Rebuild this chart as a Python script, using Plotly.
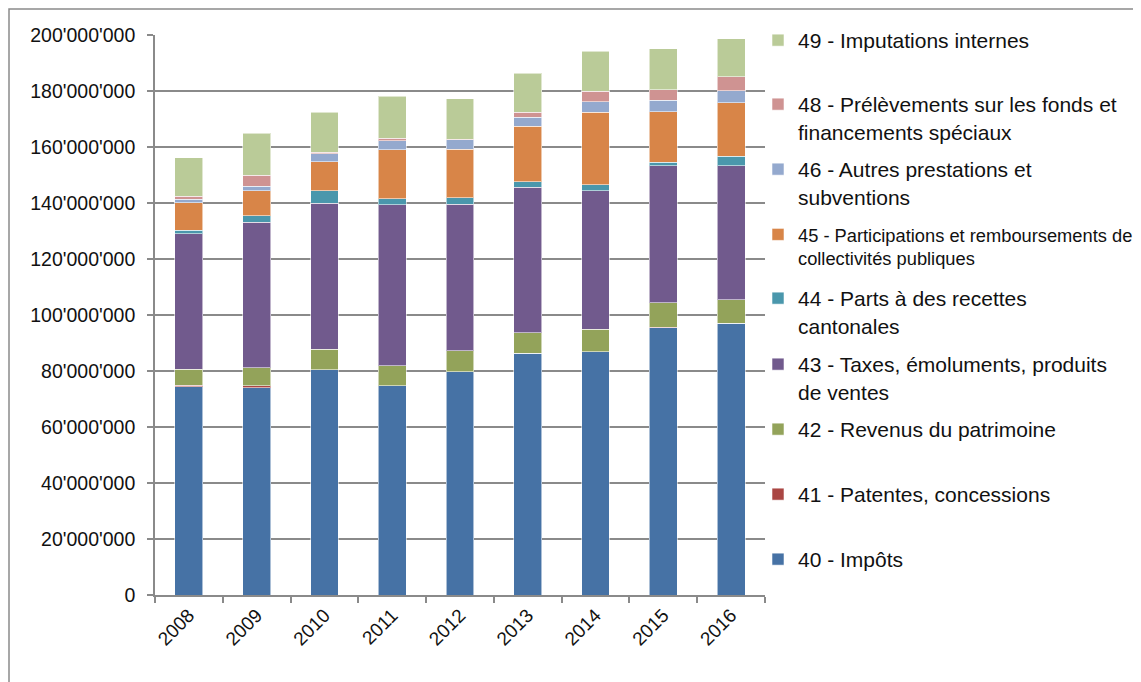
import plotly.graph_objects as go

years = ["2008", "2009", "2010", "2011", "2012", "2013", "2014", "2015", "2016"]

v40 = [74.3e6, 74.0e6, 80.4e6, 74.7e6, 79.7e6, 86.3e6, 86.9e6, 95.5e6, 97.0e6]
v41 = [0.6e6, 0.7e6, 0.1e6, 0.1e6, 0.05e6, 0.05e6, 0.05e6, 0.05e6, 0.05e6]
v42 = [5.8e6, 6.4e6, 7.3e6, 7.0e6, 7.4e6, 7.3e6, 8.0e6, 8.8e6, 8.4e6]
v43 = [48.3e6, 52.0e6, 52.2e6, 57.6e6, 52.4e6, 52.0e6, 49.4e6, 49.0e6, 47.9e6]
v44 = [1.2e6, 2.4e6, 4.4e6, 2.1e6, 2.3e6, 2.0e6, 2.1e6, 1.2e6, 3.4e6]
v45 = [9.9e6, 8.9e6, 10.4e6, 17.5e6, 17.3e6, 19.7e6, 25.9e6, 18.0e6, 19.1e6]
v46 = [1.2e6, 1.5e6, 2.8e6, 3.3e6, 3.4e6, 3.3e6, 3.8e6, 4.2e6, 4.3e6]
v48 = [1.2e6, 4.1e6, 0.6e6, 0.9e6, 0.3e6, 1.7e6, 3.8e6, 3.7e6, 4.9e6]
v49 = [13.6e6, 15.0e6, 14.2e6, 15.0e6, 14.4e6, 14.0e6, 14.2e6, 14.6e6, 13.6e6]

names = [
    "40 - Impôts",
    "41 - Patentes, concessions",
    "42 - Revenus du patrimoine",
    "43 - Taxes, émoluments, produits<br>de ventes",
    "44 - Parts à des recettes<br>cantonales",
    "45 - Participations et remboursements de<br>collectivités publiques",
    "46 - Autres prestations et<br>subventions",
    "48 - Prélèvements sur les fonds et<br>financements spéciaux",
    "49 - Imputations internes",
]
series = [v40, v41, v42, v43, v44, v45, v46, v48, v49]
colors = ["#4672A5", "#AA4643", "#93A35A", "#715A8D", "#4A97AC",
          "#D88548", "#94A9CE", "#CF9392", "#BACB98"]
# first-line centre of each legend entry, in screen pixels from top
legend_px = [559, 494, 429, 364, 298, 234, 169, 104, 40]
legend_fs = [21, 21, 21, 21, 21, 18.3, 21, 21, 21]

W, H = 1141, 682
OFF = 8  # page body margin
L, T = 155 - OFF, 35 - OFF
pw, ph = 610, 560
R = W - L - pw
B = H - T - ph


def py(px):
    """screen pixel y -> paper y"""
    return (T + ph - (px - OFF)) / ph


def pxx(px):
    return (px - OFF - L) / pw


fig = go.Figure()
layout_legends = {}
for i, (nm, vals, col) in enumerate(zip(names, series, colors)):
    lname = "legend" if i == 0 else f"legend{i+1}"
    fig.add_trace(go.Bar(
        x=years, y=vals, name=nm,
        marker=dict(color=col, line=dict(color="rgba(255,255,255,0.55)", width=1)),
        legend=lname,
    ))
    off = 20 if legend_fs[i] >= 20 else 18
    layout_legends[lname] = dict(
        x=pxx(758), xanchor="left",
        y=py(legend_px[i] - off), yanchor="top",
        font=dict(family="Liberation Sans, Arial, sans-serif", size=legend_fs[i], color="#111"),
        bgcolor="rgba(0,0,0,0)", valign="top",
    )

fig.update_layout(
    width=W, height=H,
    margin=dict(l=L, r=R, t=T, b=B, autoexpand=False),
    barmode="stack", bargap=0.59,
    plot_bgcolor="white", paper_bgcolor="white",
    separators=".'",
    font=dict(family="Liberation Sans, Arial, sans-serif", color="#111"),
    showlegend=True,
    **layout_legends,
)
fig.update_yaxes(
    range=[0, 200e6], dtick=20e6, tickformat=",d",
    showgrid=True, gridcolor="#8a8a8a", gridwidth=1.6,
    showline=True, linecolor="#8a8a8a", linewidth=1.6,
    ticks="outside", ticklen=6, tickcolor="#8a8a8a", tickwidth=1.5,
    ticklabelstandoff=8,
    tickfont=dict(size=19.5, color="#111"),
    zeroline=False,
)
fig.update_xaxes(
    type="category", tickangle=-45, tickson="boundaries",
    showline=True, linecolor="#8a8a8a", linewidth=1.6,
    ticks="outside", ticklen=6, tickcolor="#8a8a8a", tickwidth=1.5,
    tickfont=dict(size=19, color="#111"),
    showgrid=False,
)
# outer chart frame
fig.add_shape(type="rect", xref="paper", yref="paper",
              x0=pxx(9), x1=pxx(W + 30),
              y0=py(H + 30), y1=py(9),
              line=dict(color="#8a8a8a", width=1.5), fillcolor="rgba(0,0,0,0)", layer="below")

fig.write_html("out.html")
